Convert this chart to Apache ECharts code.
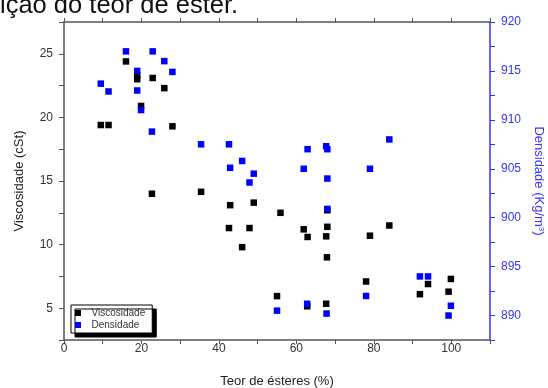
<!DOCTYPE html>
<html>
<head>
<meta charset="utf-8">
<script src="https://cdn.jsdelivr.net/npm/echarts@6/dist/echarts.min.js"></script>
<style>
  html, body { margin: 0; padding: 0; background: #fff; }
  #chart { width: 548px; height: 388px; }
</style>
</head>
<body>
<div id="chart"></div>
<script>
// teor de ésteres (%) e viscosidade (cSt)
const viscX = [9.5, 11.5, 16.0, 18.9, 18.9, 19.9, 22.7, 22.9, 25.9, 28.0, 35.4, 42.6, 42.9, 46.0, 47.9, 49.0,
  55.0, 55.9, 61.9, 62.8, 62.9, 67.7, 67.7, 68.0, 68.0, 67.9, 78.0, 79.0, 84.0, 91.9, 94.0, 99.3, 99.9]
const viscY = [19.4, 19.4, 24.4, 23.3, 23.0, 20.9, 14.0, 23.1, 22.3, 19.3, 14.15, 11.3, 13.1, 9.8, 11.3, 13.3,
  5.95, 12.5, 11.2, 5.15, 10.6, 10.65, 5.35, 11.4, 12.7, 9.0, 7.1, 10.7, 11.5, 6.1, 6.9, 6.3, 7.3]

// teor de ésteres (%) e densidade (kg/m3)
const densX = [9.5, 11.5, 16.0, 18.9, 18.9, 19.9, 22.7, 22.9, 25.9, 28.0, 35.4, 42.6, 42.9, 46.0, 47.9, 49.0,
  55.0, 61.9, 62.8, 62.9, 67.7, 68.0, 68.0, 68.0, 67.8, 78.0, 79.0, 84.0, 91.9, 94.0, 99.3, 99.9]
const densY = [913.7, 912.9, 917.0, 915.0, 913.0, 911.0, 908.8, 917.0, 916.0, 914.9, 907.5, 907.5, 905.1, 905.8, 903.6, 904.5,
  890.5, 905.0, 891.2, 907.0, 907.3, 907.0, 904.0, 900.9, 890.2, 892.0, 905.0, 908.0, 894.0, 894.0, 890.0, 891.0]

const seriesNames = ['Viscosidade', 'Densidade']

const chart = echarts.init(document.getElementById('chart'))

const axisGray = '#555'
const blue = '#3535f5'
const font = 'Liberation Sans, Arial, sans-serif'

chart.setOption({
  backgroundColor: '#fff',
  animation: false,
  textStyle: { fontFamily: font },
  graphic: [
    {
      // título cortado no topo da figura original
      type: 'text',
      x: 0,
      y: 5.5,
      style: { text: 'ição do teor de éster.', font: '25.5px ' + font, fill: '#111', verticalAlign: 'middle' },
    },
  ],
  grid: { left: 64, right: 58, top: 22, bottom: 48, containLabel: false, outerBoundsMode: 'none' },
  legend: {
    orient: 'vertical',
    left: 71,
    top: 305,
    padding: [3, 7, 3, 4],
    itemGap: 2,
    itemWidth: 17,
    itemHeight: 6,
    icon: 'path://M0,0H10V10H0Z',
    backgroundColor: '#fff',
    borderColor: '#000',
    borderWidth: 1,
    borderRadius: 0,
    shadowColor: '#000',
    shadowBlur: 0,
    shadowOffsetX: 4,
    shadowOffsetY: 4,
    textStyle: { fontSize: 10, color: '#333' },
    data: seriesNames,
  },
  xAxis: [
    {
      type: 'value',
      min: 0,
      max: 110,
      interval: 10,
      name: 'Teor de ésteres (%)',
      nameLocation: 'middle',
      nameGap: 35,
      nameTextStyle: { fontSize: 13, color: '#222' },
      axisLine: { onZero: false, lineStyle: { color: axisGray, width: 1.5 } },
      axisTick: { inside: false, length: 4, lineStyle: { color: axisGray } },
      axisLabel: { fontSize: 12, color: '#333', margin: 3, formatter: (v) => (v % 20 === 0 && v <= 100 ? v : '') },
      splitLine: { show: false },
    },
    {
      type: 'value',
      position: 'top',
      min: 0,
      max: 110,
      interval: 10,
      axisLine: { onZero: false, lineStyle: { color: axisGray, width: 1.5 } },
      axisTick: { inside: false, length: 4, lineStyle: { color: axisGray } },
      axisLabel: { show: false },
      splitLine: { show: false },
    },
  ],
  yAxis: [
    {
      type: 'value',
      min: 2.5,
      max: 27.5,
      interval: 2.5,
      name: 'Viscosidade (cSt)',
      nameLocation: 'middle',
      nameGap: 38,
      nameTextStyle: { fontSize: 13, color: '#222' },
      axisLine: { show: true, onZero: false, lineStyle: { color: axisGray, width: 1.5 } },
      axisTick: { show: true, length: 5, lineStyle: { color: axisGray } },
      axisLabel: { fontSize: 12, color: '#333', margin: 11, formatter: (v) => (v % 5 === 0 ? v : '') },
      splitLine: { show: false },
    },
    {
      type: 'value',
      position: 'right',
      min: 887.5,
      max: 920,
      interval: 2.5,
      name: 'Densidade (Kg/m{sup|3})',
      nameLocation: 'middle',
      nameRotate: -90,
      nameGap: 41,
      nameTextStyle: {
        fontSize: 13,
        color: blue,
        rich: { sup: { fontSize: 8, color: blue, verticalAlign: 'top', padding: [0, 0, 6, 0] } },
      },
      axisLine: { show: true, onZero: false, lineStyle: { color: blue, width: 1.5 } },
      axisTick: { show: true, length: 5, lineStyle: { color: blue } },
      axisLabel: { fontSize: 12, color: blue, margin: 11, formatter: (v) => (v % 5 === 0 ? v : '') },
      splitLine: { show: false },
    },
  ],
  series: [
    {
      name: seriesNames[0],
      type: 'scatter',
      xAxisIndex: 0,
      yAxisIndex: 0,
      symbol: 'rect',
      symbolSize: 6.5,
      itemStyle: { color: '#000', opacity: 1 },
      data: viscX.map((x, i) => [x, viscY[i]]),
    },
    {
      name: seriesNames[1],
      type: 'scatter',
      xAxisIndex: 0,
      yAxisIndex: 1,
      symbol: 'rect',
      symbolSize: 6.5,
      itemStyle: { color: '#0000ff', opacity: 1 },
      data: densX.map((x, i) => [x, densY[i]]),
    },
  ],
})
</script>
</body>
</html>
